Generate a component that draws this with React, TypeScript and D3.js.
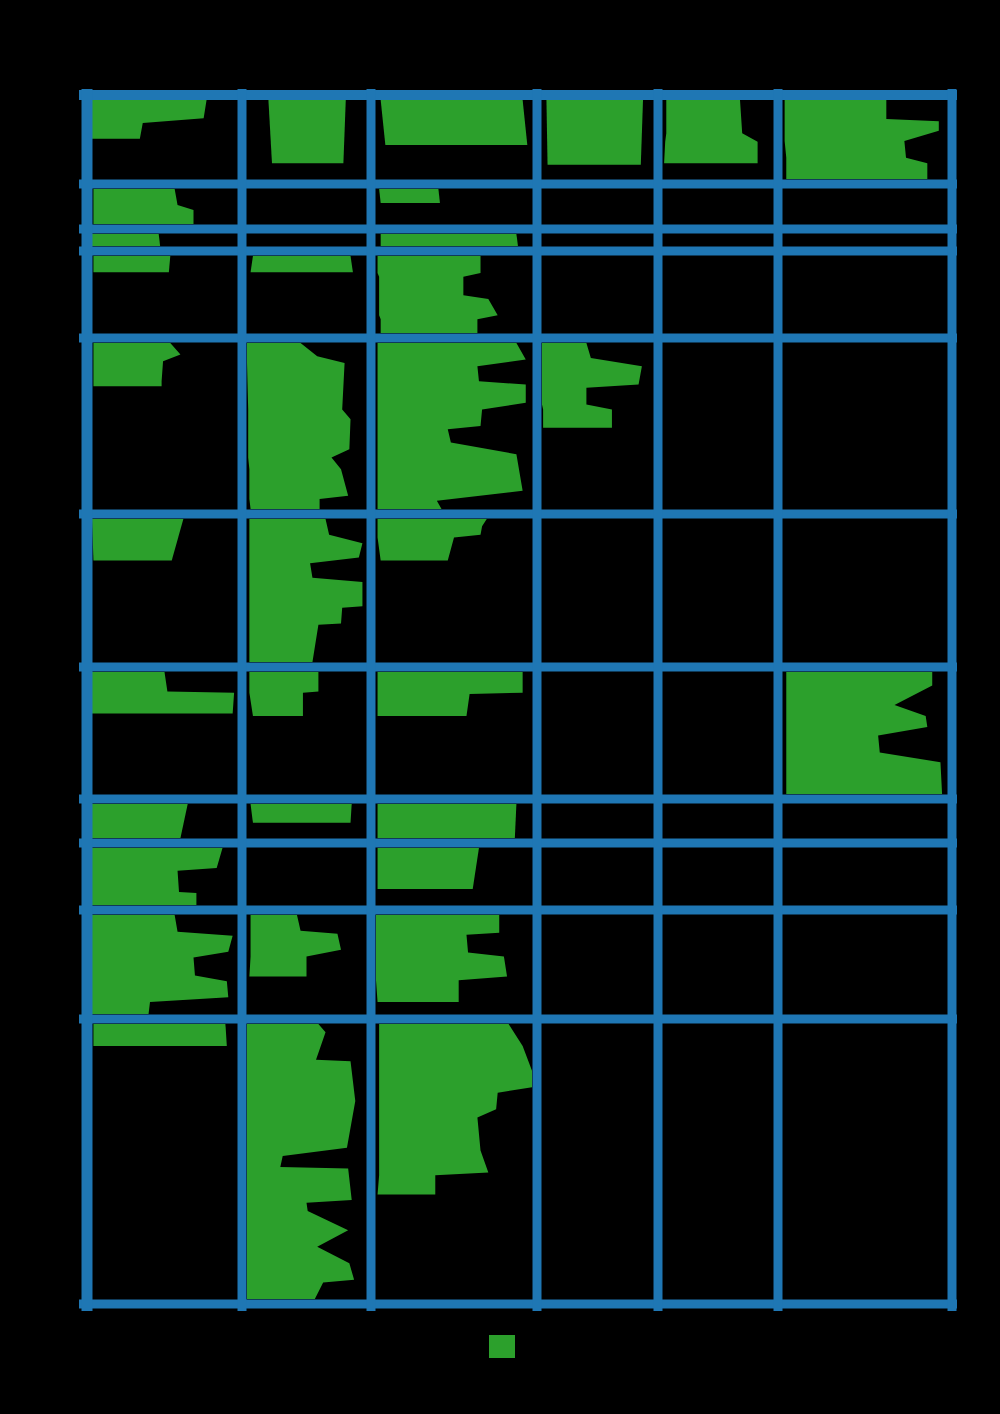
import React, { useEffect, useRef } from "react";
import * as d3 from "d3";

// relative widths of the columns and heights of the rows
const colWeights = [155, 129, 166, 121, 120, 174];
const rowWeights = [89, 45, 22, 87, 176, 153, 132, 44, 67, 109, 285];

// each profile point: [depth % of cell, start % of cell width, end % of cell width]
type Pt = [number, number, number];
type Row = (Pt[] | null)[];

const row0: Row = [
  [[0, 0, 79], [23, 0, 77], [29, 0, 35], [49, 0, 33]],
  [[0, 18, 83], [80, 21, 81]],
  [[0, 3, 94], [57, 6, 97]],
  [[0, 4, 91], [82, 5, 89]],
  [[0, 3, 70], [42, 3, 72], [53, 2, 86], [80, 1, 86]],
  [[0, 1, 63], [24, 1, 63], [27, 1, 95], [39, 1, 95], [52, 1, 74], [73, 2, 75], [80, 2, 88], [100, 2, 88]],
];
const row1: Row = [
  [[0, 1, 57], [46, 1, 59], [60, 1, 70], [100, 1, 70]],
  null,
  [[0, 2, 40], [40, 3, 41]],
  null, null, null,
];
const row2: Row = [
  [[0, 0, 46], [100, 0, 47]],
  null,
  [[0, 3, 90], [100, 3, 91]],
  null, null, null,
];
const row3: Row = [
  [[0, 1, 54], [21, 1, 53]],
  [[0, 5, 87], [21, 3, 89]],
  [[0, 1, 67], [22, 1, 67], [27, 2, 56], [51, 2, 56], [56, 2, 72], [77, 2, 78], [82, 3, 65], [100, 3, 65]],
  null, null, null,
];
const row4: Row = [
  [[0, 1, 54], [7, 1, 61], [11, 1, 49], [23, 1, 48], [26, 1, 48]],
  [[0, 0, 45], [8, 0, 59], [12, 0, 82], [40, 1, 80], [46, 1, 87], [64, 1, 86], [69, 1, 71], [76, 2, 79], [92, 2, 85], [94, 2, 61], [100, 3, 61]],
  [[0, 1, 90], [10, 1, 96], [14, 1, 65], [23, 1, 66], [25, 1, 96], [36, 1, 96], [40, 1, 68], [50, 1, 67], [52, 1, 46], [60, 1, 48], [67, 1, 90], [89, 1, 94], [95, 1, 39], [100, 1, 42]],
  [[0, 0, 40], [9, 0, 44], [14, 0, 90], [25, 0, 87], [27, 0, 40], [37, 0, 40], [40, 1, 63], [51, 1, 63]],
  null, null,
];
const row5: Row = [
  [[0, 0, 63], [29, 1, 55]],
  [[0, 2, 66], [11, 2, 69], [17, 2, 97], [27, 2, 94], [31, 2, 53], [41, 2, 55], [44, 2, 97], [61, 2, 97], [62, 2, 80], [73, 2, 79], [74, 2, 60], [100, 2, 55]],
  [[0, 1, 71], [5, 1, 68], [11, 1, 67], [13, 1, 50], [29, 3, 46]],
  null, null, null,
];
const row6: Row = [
  [[0, 0, 50], [16, 0, 52], [17, 0, 98], [34, 0, 97]],
  [[0, 2, 60], [16, 2, 60], [17, 2, 47], [36, 5, 47]],
  [[0, 1, 94], [17, 1, 94], [18, 1, 60], [36, 1, 58]],
  null, null,
  [[0, 2, 91], [11, 2, 91], [27, 2, 68], [36, 2, 87], [45, 2, 88], [52, 2, 58], [66, 2, 59], [74, 2, 96], [100, 2, 97]],
];
const row7: Row = [
  [[0, 0, 66], [100, 0, 61]],
  [[0, 3, 88], [55, 5, 87]],
  [[0, 1, 90], [100, 1, 89]],
  null, null, null,
];
const row8: Row = [
  [[0, 0, 90], [35, 0, 86], [40, 0, 59], [77, 0, 60], [79, 0, 72], [100, 0, 72]],
  null,
  [[0, 1, 66], [72, 1, 62]],
  null, null, null,
];
const row9: Row = [
  [[0, 0, 57], [17, 0, 59], [21, 0, 97], [37, 0, 94], [43, 0, 70], [61, 0, 71], [67, 0, 93], [83, 0, 94], [88, 0, 40], [100, 0, 39]],
  [[0, 3, 42], [16, 3, 45], [19, 3, 76], [35, 3, 79], [42, 3, 50], [62, 2, 50]],
  [[0, 0, 79], [18, 0, 79], [20, 0, 58], [38, 0, 59], [42, 0, 82], [62, 0, 84], [66, 0, 53], [88, 1, 53]],
  null, null, null,
];
const row10: Row = [
  [[0, 1, 92], [8, 1, 93]],
  [[0, 0, 60], [3, 0, 66], [13, 0, 58], [13.5, 0, 87], [28, 0, 91], [45, 0, 84], [48, 0, 30], [52, 0, 28], [52.5, 0, 85], [64, 0, 88], [65, 0, 50], [68, 0, 51], [75, 0, 85], [81, 0, 59], [87, 0, 86], [93, 0, 90], [94, 0, 64], [100, 0, 57]],
  [[0, 2, 85], [8, 2, 94], [17, 2, 100], [23, 2, 100], [25, 2, 78], [31, 2, 77], [34, 2, 65], [46, 2, 67], [54, 2, 72], [55, 2, 38], [62, 1, 38]],
  null, null, null,
];

const rows = [row0, row1, row2, row3, row4, row5, row6, row7, row8, row9, row10];

const App = () => {
  const ref = useRef<SVGSVGElement>(null);

  useEffect(() => {
    const width = 1000,
      height = 1414;
    const margin = { top: 95, right: 48, bottom: 110, left: 87 };
    const pad = 5;
    const svg = d3.select(ref.current);
    svg.selectAll("*").remove();

    svg
      .append("rect")
      .attr("width", width)
      .attr("height", height)
      .attr("fill", "#000");

    const colEdges = [0, ...Array.from(d3.cumsum(colWeights))];
    const rowEdges = [0, ...Array.from(d3.cumsum(rowWeights))];
    const gx = d3
      .scaleLinear()
      .domain([0, d3.sum(colWeights)])
      .range([margin.left, width - margin.right]);
    const gy = d3
      .scaleLinear()
      .domain([0, d3.sum(rowWeights)])
      .range([margin.top, height - margin.bottom]);

    const shapes = svg.append("g");
    rows.forEach((cells, ri) => {
      cells.forEach((pts, ci) => {
        if (!pts) return;
        const x = d3
          .scaleLinear()
          .domain([0, 100])
          .range([gx(colEdges[ci]) + pad, gx(colEdges[ci + 1]) - pad]);
        const y = d3
          .scaleLinear()
          .domain([0, 100])
          .range([gy(rowEdges[ri]) + pad, gy(rowEdges[ri + 1]) - pad]);
        const area = d3
          .area<Pt>()
          .y(d => y(d[0]))
          .x0(d => x(d[1]))
          .x1(d => x(d[2]));
        shapes
          .append("path")
          .datum(pts)
          .attr("d", area)
          .attr("fill", "#2ca02c");
      });
    });

    // grid, drawn over the shapes
    const grid = svg.append("g").attr("stroke", "#1f77b4").attr("stroke-linecap", "butt");
    rowEdges.forEach((e, i) => {
      grid
        .append("line")
        .attr("x1", gx(0) - 8)
        .attr("x2", gx(d3.sum(colWeights)) + 5)
        .attr("y1", gy(e))
        .attr("y2", gy(e))
        .attr("stroke-width", i === 0 ? 10 : 9);
    });
    colEdges.forEach((e, i) => {
      grid
        .append("line")
        .attr("x1", gx(e))
        .attr("x2", gx(e))
        .attr("y1", gy(0) - 6)
        .attr("y2", gy(d3.sum(rowWeights)) + 7)
        .attr("stroke-width", i === 0 ? 11 : 9);
    });

    // legend swatch
    svg
      .append("rect")
      .attr("x", 489)
      .attr("y", 1335)
      .attr("width", 26)
      .attr("height", 23)
      .attr("fill", "#2ca02c");
  }, []);

  return (
    <svg
      ref={ref}
      width={1000}
      height={1414}
      style={{ position: "absolute", left: 0, top: 0, display: "block" }}
    />
  );
};

export default App;
